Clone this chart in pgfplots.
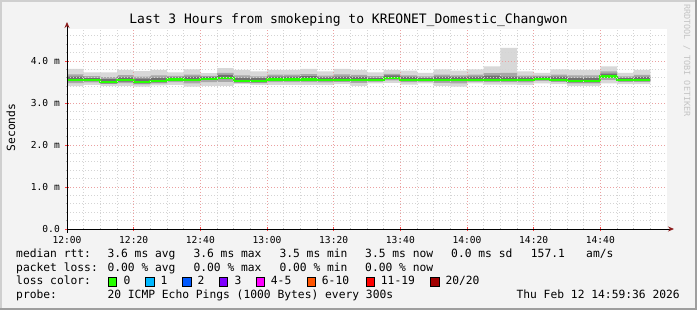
\documentclass[border=0pt]{standalone}
\usepackage{fontspec}
\setmainfont{DejaVu Sans Mono}
\usepackage{xcolor}
\usepackage{pgfplots}
\pgfplotsset{compat=1.18}
\usepgfplotslibrary{fillbetween}
\usepackage{pgfplotstable}
\usetikzlibrary{arrows.meta}

\definecolor{bgc}{HTML}{F3F3F3}
\definecolor{shadeA}{HTML}{CFCFCF}
\definecolor{shadeB}{HTML}{9E9E9E}
\definecolor{gridc}{HTML}{CCCCCC}
\definecolor{mgridc}{HTML}{EBA0A0}
\definecolor{smokeA}{HTML}{D8D8D8}
\definecolor{smokeB}{HTML}{A8A8A8}
\definecolor{smokeC}{HTML}{707070}
\definecolor{lc0}{HTML}{26FF00}
\definecolor{lc1}{HTML}{00B8FF}
\definecolor{lc2}{HTML}{0059FF}
\definecolor{lc3}{HTML}{7E00FF}
\definecolor{lc4}{HTML}{FF00FF}
\definecolor{lc5}{HTML}{FF5500}
\definecolor{lc6}{HTML}{FF0000}
\definecolor{lc7}{HTML}{A10000}
\definecolor{arrowc}{HTML}{8B1A1A}
\definecolor{wmark}{HTML}{C4C4C4}

\newcommand{\titlefont}{\fontsize{13}{15}\selectfont}
\newcommand{\lgfont}{\fontsize{11.3}{13}\selectfont}
\newcommand{\axfont}{\fontsize{9.6}{11}\selectfont}
\newcommand{\wmfont}{\fontsize{8.5}{10}\selectfont}

\pgfplotstableread{
t lo mlo dlo dhi mhi hi med
0 3.40 3.475 3.52 3.63 3.68 3.81 3.55
5 3.43 3.49 3.52 3.59 3.64 3.73 3.55
10 3.41 3.455 3.47 3.57 3.615 3.73 3.50
15 3.41 3.475 3.51 3.61 3.665 3.79 3.54
20 3.39 3.445 3.47 3.58 3.63 3.76 3.50
25 3.42 3.47 3.49 3.60 3.655 3.79 3.52
30 3.43 3.495 3.53 3.61 3.645 3.73 3.56
35 3.39 3.47 3.52 3.63 3.675 3.80 3.55
40 3.41 3.495 3.55 3.62 3.645 3.71 3.58
45 3.41 3.505 3.57 3.67 3.715 3.83 3.60
50 3.45 3.485 3.49 3.60 3.655 3.79 3.52
55 3.43 3.475 3.49 3.59 3.635 3.75 3.52
60 3.43 3.495 3.53 3.63 3.675 3.79 3.56
65 3.43 3.495 3.53 3.63 3.675 3.79 3.56
70 3.43 3.495 3.53 3.64 3.685 3.81 3.56
75 3.43 3.49 3.52 3.61 3.65 3.75 3.55
80 3.45 3.50 3.52 3.63 3.68 3.81 3.55
85 3.41 3.48 3.52 3.62 3.67 3.79 3.55
90 3.47 3.51 3.52 3.60 3.64 3.73 3.55
95 3.48 3.54 3.57 3.66 3.695 3.79 3.60
100 3.44 3.495 3.52 3.62 3.66 3.77 3.55
105 3.47 3.51 3.52 3.60 3.635 3.72 3.55
110 3.41 3.48 3.52 3.63 3.675 3.80 3.55
115 3.39 3.47 3.52 3.62 3.66 3.77 3.55
120 3.47 3.51 3.52 3.63 3.675 3.80 3.55
125 3.44 3.495 3.52 3.65 3.71 3.87 3.55
130 3.44 3.495 3.52 3.63 3.72 4.31 3.55
135 3.43 3.49 3.52 3.61 3.65 3.75 3.55
140 3.47 3.525 3.55 3.62 3.65 3.72 3.58
145 3.45 3.50 3.52 3.63 3.675 3.80 3.55
150 3.41 3.465 3.49 3.60 3.655 3.79 3.52
155 3.41 3.465 3.49 3.60 3.655 3.79 3.52
160 3.47 3.55 3.60 3.70 3.75 3.87 3.63
165 3.45 3.50 3.52 3.60 3.635 3.72 3.55
170 3.45 3.50 3.52 3.62 3.67 3.79 3.55
175 3.45 3.50 3.52 3.62 3.67 3.79 3.55
}\smoke

\begin{document}
\pagecolor{bgc}%
\begin{tikzpicture}
\begin{scope}[x=1pt,y=1pt]
\fill[shadeA] (0,308) rectangle (697,310);
\fill[shadeA] (0,0) rectangle (2,310);
\fill[shadeB] (695,0) rectangle (697,310);
\fill[shadeB] (0,0) rectangle (697,2);
\end{scope}

\begin{axis}[
  at={(67pt,81pt)}, anchor=south west,
  scale only axis, width=600pt, height=200pt,
  xmin=0, xmax=180, ymin=0, ymax=4.7619,
  axis background/.style={fill=white},
  axis on top,
  axis lines=left,
  axis line style={black, line width=0.8pt},
  x axis line style={-{Stealth[length=6pt,width=5pt,color=arrowc]}, shorten >=-7pt},
  y axis line style={-{Stealth[length=6pt,width=5pt,color=arrowc]}, shorten >=-7pt, shorten <=-4pt},
  xtick={0,20,...,160},
  xticklabels={12:00,12:20,12:40,13:00,13:20,13:40,14:00,14:20,14:40},
  minor xtick={5,10,...,175},
  ytick={0,1,2,3,4},
  yticklabels={0.0,1.0 m,2.0 m,3.0 m,4.0 m},
  minor ytick={0.2,0.4,...,4.61},
  grid=both,
  major grid style={mgridc, line width=0.7pt, dash pattern=on 1pt off 2pt},
  minor grid style={gridc!85!white, line width=0.7pt, dash pattern=on 1pt off 2pt},
  tick align=center,
  major tick length=4pt, minor tick length=2pt,
  major tick style={color=red!75, line width=0.7pt},
  minor tick style={color=gray!60, line width=0.7pt},
  xticklabel style={font=\axfont, anchor=north, inner sep=0pt, yshift=-5pt},
  yticklabel style={font=\axfont, anchor=east, inner sep=0pt, xshift=-5pt},
]
\addplot[name path=lo, draw=none, const plot, forget plot] table[x=t,y=lo]{\smoke};
\addplot[name path=hi, draw=none, const plot, forget plot] table[x=t,y=hi]{\smoke};
\addplot[name path=mlo, draw=none, const plot, forget plot] table[x=t,y=mlo]{\smoke};
\addplot[name path=mhi, draw=none, const plot, forget plot] table[x=t,y=mhi]{\smoke};
\addplot[name path=dlo, draw=none, const plot, forget plot] table[x=t,y=dlo]{\smoke};
\addplot[name path=dhi, draw=none, const plot, forget plot] table[x=t,y=dhi]{\smoke};
\addplot[smokeA, draw=none] fill between[of=lo and hi];
\addplot[smokeB, draw=none] fill between[of=mlo and mhi];
\addplot[smokeC, draw=none] fill between[of=dlo and dhi];
\addplot[const plot, lc0, line width=2.2pt] table[x=t,y=med]{\smoke};
\end{axis}

\begin{scope}[x=1pt,y=1pt]
\node[font=\titlefont, anchor=base, inner sep=0pt] at (348.5,286.5) {Last 3 Hours from smokeping to KREONET\_Domestic\_Changwon};
\node[font=\lgfont, rotate=90, inner sep=0pt] at (10.8,182.5) {Seconds};
\node[font=\wmfont, text=wmark, rotate=-90, anchor=west, inner sep=0pt] at (687,306) {RRDTOOL / TOBI OETIKER};

\begin{scope}[every node/.style={font=\lgfont, anchor=base west, inner sep=0pt}]
\node at (16,52) {median rtt:};
\node at (107.3,52) {3.6 ms avg};
\node at (193.3,52) {3.6 ms max};
\node at (279.3,52) {3.5 ms min};
\node at (365,52) {3.5 ms now};
\node at (451,52) {0.0 ms sd};
\node at (530.7,52) {157.1};
\node at (586,52) {am/s};

\node at (16,38.5) {packet loss:};
\node at (107.3,38.5) {0.00 \% avg};
\node at (193.3,38.5) {0.00 \% max};
\node at (279.3,38.5) {0.00 \% min};
\node at (365,38.5) {0.00 \% now};

\node at (16,25) {loss color:};
\node at (123.3,25) {0};
\node at (160.3,25) {1};
\node at (197.3,25) {2};
\node at (234.3,25) {3};
\node at (270.7,25) {4-5};
\node at (321.7,25) {6-10};
\node at (380.7,25) {11-19};
\node at (445.3,25) {20/20};

\node at (16,11.5) {probe:};
\node at (107.3,11.5) {20 ICMP Echo Pings (1000 Bytes) every 300s};
\node[anchor=base east] at (680,11.5) {Thu Feb 12 14:59:36 2026};
\end{scope}

\begin{scope}[line width=0.6pt]
\filldraw[fill=lc0, draw=black] (108.3,23.7) rectangle (116.7,32.3);
\filldraw[fill=lc1, draw=black] (145.7,23.7) rectangle (154.1,32.3);
\filldraw[fill=lc2, draw=black] (182.7,23.7) rectangle (191.1,32.3);
\filldraw[fill=lc3, draw=black] (219.3,23.7) rectangle (227.7,32.3);
\filldraw[fill=lc4, draw=black] (256.0,23.7) rectangle (264.4,32.3);
\filldraw[fill=lc5, draw=black] (307.3,23.7) rectangle (315.7,32.3);
\filldraw[fill=lc6, draw=black] (366.0,23.7) rectangle (374.4,32.3);
\filldraw[fill=lc7, draw=black] (430.7,23.7) rectangle (439.1,32.3);
\end{scope}
\end{scope}
\end{tikzpicture}
\end{document}
